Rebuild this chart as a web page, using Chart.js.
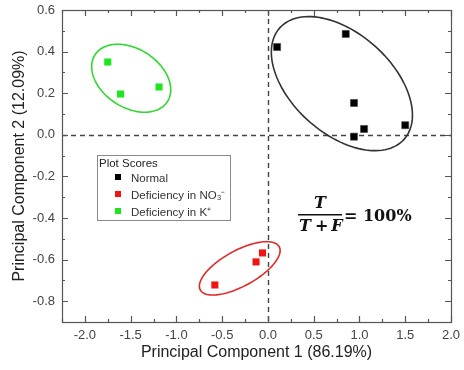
<!DOCTYPE html>
<html>
<head>
<meta charset="utf-8">
<script src="https://cdn.jsdelivr.net/npm/chart.js@4.4.0/dist/chart.umd.min.js"></script>
<style>
  html, body { margin: 0; padding: 0; background: #fff; }
</style>
</head>
<body>
<canvas id="chart" width="464" height="370"></canvas>
<script>
// PCA scores
const groupNames = ['Normal', 'Deficiency in NO\u2083\u207B', 'Deficiency in K\u207A'];
const normalX = [0.10, 0.85, 0.94, 1.05, 0.94, 1.50];
const normalY = [0.422, 0.485, 0.153, 0.028, -0.009, 0.046];
const nitrateX = [-0.06, -0.13, -0.58];
const nitrateY = [-0.568, -0.611, -0.722];
const potassiumX = [-1.75, -1.61, -1.19];
const potassiumY = [0.35, 0.196, 0.23];

// confidence ellipses: centre x, centre y, semi-axis 1 (dx, dy), semi-axis 2 (dx, dy)
const normalEllipse = [0.808, 0.246, 0.679, -0.268, -0.365, -0.179];
const nitrateEllipse = [-0.308, -0.642, 0.431, 0.104, 0.094, -0.075];
const potassiumEllipse = [-1.494, 0.272, 0.395, -0.113, -0.175, -0.118];

const xTicks = [-2.0, -1.5, -1.0, -0.5, 0.0, 0.5, 1.0, 1.5, 2.0];
const yTicks = [-0.8, -0.6, -0.4, -0.2, 0.0, 0.2, 0.4, 0.6];
const xMinorTicks = [-2.25, -1.75, -1.25, -0.75, -0.25, 0.25, 0.75, 1.25, 1.75];
const yMinorTicks = [-0.9, -0.7, -0.5, -0.3, -0.1, 0.1, 0.3, 0.5];

const colors = ['#000000', '#f01414', '#1ee61e'];
const ellipseColors = ['#333333', '#de2a2a', '#33d633'];

function toPoints(xs, ys) {
    return xs.map((x, i) => ({ x: x, y: ys[i] }));
}

function drawEllipse(ctx, xs, ys, e, color) {
    const [cx, cy, ax, ay, bx, by] = e;
    ctx.beginPath();
    for (let i = 0; i <= 120; i++) {
        const t = i / 120 * 2 * Math.PI;
        const px = xs.getPixelForValue(cx + ax * Math.cos(t) + bx * Math.sin(t));
        const py = ys.getPixelForValue(cy + ay * Math.cos(t) + by * Math.sin(t));
        if (i === 0) ctx.moveTo(px, py); else ctx.lineTo(px, py);
    }
    ctx.closePath();
    ctx.strokeStyle = color;
    ctx.lineWidth = 1.6;
    ctx.stroke();
}

const decorations = {
    id: 'decorations',
    beforeDatasetsDraw(chart) {
        const ctx = chart.ctx;
        const a = chart.chartArea;
        const xs = chart.scales.x, ys = chart.scales.y;
        ctx.save();
        // zero lines
        ctx.setLineDash([5, 4]);
        ctx.strokeStyle = '#444';
        ctx.lineWidth = 1.4;
        const x0 = Math.round(xs.getPixelForValue(0)) + 0.5;
        const y0 = Math.round(ys.getPixelForValue(0)) + 0.5;
        ctx.beginPath();
        ctx.moveTo(x0, a.top); ctx.lineTo(x0, a.bottom);
        ctx.moveTo(a.left, y0); ctx.lineTo(a.right, y0);
        ctx.stroke();
        ctx.setLineDash([]);
        drawEllipse(ctx, xs, ys, normalEllipse, ellipseColors[0]);
        drawEllipse(ctx, xs, ys, nitrateEllipse, ellipseColors[1]);
        drawEllipse(ctx, xs, ys, potassiumEllipse, ellipseColors[2]);
        ctx.restore();
    },
    afterDraw(chart) {
        const ctx = chart.ctx;
        const a = chart.chartArea;
        const xs = chart.scales.x, ys = chart.scales.y;
        ctx.save();
        // frame
        ctx.strokeStyle = '#555';
        ctx.lineWidth = 1.2;
        ctx.strokeRect(a.left + 0.5, a.top + 0.5, a.right - a.left, a.bottom - a.top);
        // inward ticks on all four sides
        ctx.beginPath();
        const tickX = (v, len) => {
            const p = Math.round(xs.getPixelForValue(v)) + 0.5;
            ctx.moveTo(p, a.bottom); ctx.lineTo(p, a.bottom - len);
            ctx.moveTo(p, a.top); ctx.lineTo(p, a.top + len);
        };
        const tickY = (v, len) => {
            const p = Math.round(ys.getPixelForValue(v)) + 0.5;
            ctx.moveTo(a.left, p); ctx.lineTo(a.left + len, p);
            ctx.moveTo(a.right, p); ctx.lineTo(a.right - len, p);
        };
        xTicks.forEach(v => tickX(v, 6));
        xMinorTicks.forEach(v => tickX(v, 3));
        yTicks.forEach(v => tickY(v, 6));
        yMinorTicks.forEach(v => tickY(v, 3));
        ctx.stroke();

        // legend box
        const lx = 97, ly = 155, lw = 133, lh = 65;
        ctx.fillStyle = '#fff';
        ctx.fillRect(lx, ly, lw, lh);
        ctx.strokeStyle = '#8a8a8a';
        ctx.lineWidth = 1;
        ctx.strokeRect(lx + 0.5, ly + 0.5, lw, lh);
        ctx.font = '11.5px "Liberation Sans", Arial, sans-serif';
        ctx.textBaseline = 'alphabetic';
        ctx.fillStyle = '#222';
        ctx.fillText('Plot Scores', 99, 167);
        groupNames.forEach((name, i) => {
            const by = 182 + i * 17;
            ctx.fillStyle = colors[i];
            ctx.fillRect(115, by - 8, 6, 6);
            ctx.fillStyle = '#333';
            ctx.fillText(name, 131, by);
        });

        // accuracy formula
        const bi = 'italic bold 16px "DejaVu Serif", serif';
        const bn = 'bold 16px "DejaVu Serif", serif';
        ctx.fillStyle = '#111';
        ctx.textAlign = 'center';
        ctx.font = bi;
        ctx.fillText('T', 320, 208);
        ctx.fillRect(298, 214, 44, 1.5);
        ctx.textAlign = 'left';
        let x = 299;
        ctx.font = bi; ctx.fillText('T', x, 231); x += ctx.measureText('T').width + 4;
        ctx.font = bn; ctx.fillText('+', x, 231); x += ctx.measureText('+').width + 3;
        ctx.font = bi; ctx.fillText('F', x, 231);
        ctx.font = bn;
        ctx.fillText('= 100%', 344, 221);
        ctx.restore();
    }
};

new Chart(document.getElementById('chart'), {
    type: 'scatter',
    data: {
        datasets: [{
            label: groupNames[0],
            data: toPoints(normalX, normalY),
            backgroundColor: colors[0],
            borderColor: '#444',
            borderWidth: 0.6
        }, {
            label: groupNames[1],
            data: toPoints(nitrateX, nitrateY),
            backgroundColor: colors[1],
            borderColor: colors[1],
            borderWidth: 0
        }, {
            label: groupNames[2],
            data: toPoints(potassiumX, potassiumY),
            backgroundColor: colors[2],
            borderColor: colors[2],
            borderWidth: 0
        }]
    },
    options: {
        responsive: false,
        animation: false,
        layout: { padding: { top: 10, right: 13, left: 0, bottom: 0 } },
        elements: { point: { pointStyle: 'rect', radius: 5, hoverRadius: 5 } },
        plugins: { legend: { display: false }, tooltip: { enabled: false } },
        scales: {
            x: {
                min: -2.25,
                max: 2.0,
                afterFit: s => { s.height = 48; s.paddingLeft = 0; s.paddingRight = 0; },
                afterBuildTicks: s => { s.ticks = xTicks.map(v => ({ value: v })); },
                grid: { display: false, drawTicks: false },
                border: { display: false },
                ticks: {
                    padding: 6,
                    color: '#444',
                    font: { family: '"Liberation Sans", Arial, sans-serif', size: 13 },
                    callback: v => v.toFixed(1)
                },
                title: {
                    display: true,
                    text: 'Principal Component 1 (86.19%)',
                    color: '#222',
                    padding: { top: 0, bottom: 8 },
                    font: { family: '"Liberation Sans", Arial, sans-serif', size: 16 }
                }
            },
            y: {
                min: -0.9,
                max: 0.6,
                afterFit: s => { s.width = 62; s.paddingTop = 0; s.paddingBottom = 0; },
                afterBuildTicks: s => { s.ticks = yTicks.map(v => ({ value: v })); },
                grid: { display: false, drawTicks: false },
                border: { display: false },
                ticks: {
                    padding: 7,
                    color: '#444',
                    font: { family: '"Liberation Sans", Arial, sans-serif', size: 13 },
                    callback: v => v.toFixed(1)
                },
                title: {
                    display: true,
                    text: 'Principal Component 2 (12.09%)',
                    color: '#222',
                    padding: { top: 10, bottom: 0 },
                    font: { family: '"Liberation Sans", Arial, sans-serif', size: 16 }
                }
            }
        }
    },
    plugins: [decorations]
});
</script>
</body>
</html>
